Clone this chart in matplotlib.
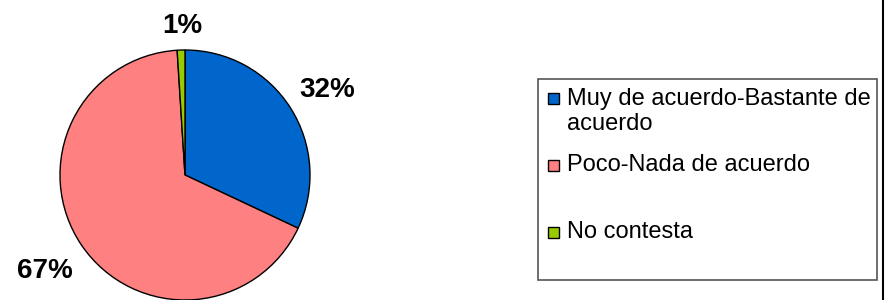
import textwrap
import matplotlib
matplotlib.use("Agg")
from matplotlib import pyplot as plt
from matplotlib.patches import Rectangle
from matplotlib.lines import Line2D
import numpy as np

plt.rcParams['font.family'] = ['Liberation Sans', 'DejaVu Sans']

# datos de la encuesta
categorias = ["Muy de acuerdo-Bastante de acuerdo", "Poco-Nada de acuerdo", "No contesta"]
valores = [32, 67, 1]
colores = ["#0066CC", "#FF8080", "#99CC00"]

W, H = 885, 300
fig = plt.figure(figsize=(W / 100, H / 100), dpi=100)

# pastel: centro (185,175) px, radio 125 px
ax = fig.add_axes([60 / W, 0 / H, 250 / W, 250 / H])
wedges, _ = ax.pie(valores, colors=colores, startangle=90, counterclock=False,
                   wedgeprops=dict(edgecolor="black", linewidth=1.0))
ax.set_xlim(-1, 1)
ax.set_ylim(-1, 1)
ax.set_aspect("equal")
ax.axis("off")

# etiquetas de porcentaje fuera del pastel
total = sum(valores)
dist = [1.33, 1.36, 1.19]
giro = [-1.5, 0, -0.8]
for w, v, d, g in zip(wedges, valores, dist, giro):
    ang = np.deg2rad((w.theta1 + w.theta2) / 2 + g)
    ax.text(d * np.cos(ang), d * np.sin(ang), "%d%%" % round(100 * v / total),
            ha="center", va="center", fontsize=20, fontweight="bold", clip_on=False)

# leyenda dibujada a mano (estilo Excel)
fig.patches.append(Rectangle((538 / W, 1 - 280 / H), 339 / W, 201 / H, transform=fig.transFigure,
                             fill=False, edgecolor="#555555", linewidth=1.2))
ys = [98.5, 165, 232]  # centro de cada entrada (px desde arriba)
for cat, col, y in zip(categorias, colores, ys):
    fig.patches.append(Rectangle((548 / W, 1 - (y + 5.5) / H), 11 / W, 11 / H,
                                 transform=fig.transFigure, facecolor=col,
                                 edgecolor="black", linewidth=1.0))
    fig.text(567 / W, 1 - (y - 11) / H, textwrap.fill(cat, 26), ha="left", va="top",
             fontsize=17, linespacing=1.2)

# borde derecho del área del gráfico
fig.add_artist(Line2D([882.5 / W, 882.5 / W], [0, 1], transform=fig.transFigure,
                      color="black", linewidth=1.5))

fig.savefig("out.png", dpi=100)
